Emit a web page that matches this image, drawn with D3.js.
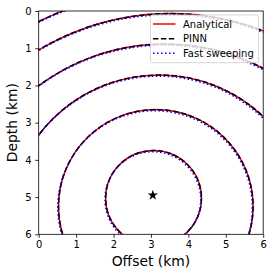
<!DOCTYPE html>
<html><head><meta charset="utf-8">
<script src="https://cdn.jsdelivr.net/npm/d3@7"></script>
<style>body{margin:0;background:#fff}svg{display:block}</style>
</head><body>
<script>
// ---- data (km) ----
const xTicks = [0, 1, 2, 3, 4, 5, 6];
const zTicks = [0, 1, 2, 3, 4, 5, 6];
const sourceX = [3.05];
const sourceZ = [4.95];
// traveltime contours approximated as circles (centre x, centre z, radius)
const analyticalCx = [3.07, 3.13, 3.22, 3.37, 3.52, 3.65];
const analyticalCz = [5.03, 5.25, 5.74, 6.53, 6.90, 7.55];
const analyticalR  = [1.28, 2.60, 4.02, 5.64, 6.83, 8.13];
const pinnCx = [3.07, 3.13, 3.22, 3.37, 3.52, 3.65];
const pinnCz = [5.03, 5.25, 5.74, 6.53, 6.90, 7.55];
const pinnR  = [1.28, 2.60, 4.02, 5.64, 6.83, 8.13];
const sweepCx = [3.05, 3.11, 3.20, 3.35, 3.50, 3.63];
const sweepCz = [5.06, 5.28, 5.77, 6.56, 6.93, 7.58];
const sweepR  = [1.28, 2.60, 4.02, 5.64, 6.83, 8.13];
const legendLabels = ["Analytical", "PINN", "Fast sweeping"];

const W = 274, H = 276;
const L = 38.7, R = 263.2, T = 11, B = 234.3;
const svg = d3.select("body").append("svg").attr("width", W).attr("height", H)
  .style("font-family", "'DejaVu Sans', sans-serif");
const x = d3.scaleLinear().domain([0, 6]).range([L, R]);
const y = d3.scaleLinear().domain([0, 6]).range([T, B]);

svg.append("clipPath").attr("id", "clip").append("rect")
  .attr("x", L).attr("y", T).attr("width", R - L).attr("height", B - T);
const g = svg.append("g").attr("clip-path", "url(#clip)");

const styles = [
  {cx: analyticalCx, cz: analyticalCz, r: analyticalR, color: "#ff0000", dash: null},
  {cx: pinnCx, cz: pinnCz, r: pinnR, color: "#000000", dash: "5.5,2.4"},
  {cx: sweepCx, cz: sweepCz, r: sweepR, color: "#0000ff", dash: "1.5,2.5"}
];
styles.forEach(s => {
  g.selectAll(null).data(s.r).enter().append("ellipse")
    .attr("cx", (d, i) => x(s.cx[i]))
    .attr("cy", (d, i) => y(s.cz[i]))
    .attr("rx", d => x(d) - x(0))
    .attr("ry", d => y(d) - y(0))
    .attr("fill", "none")
    .attr("stroke", s.color)
    .attr("stroke-width", 1.5)
    .attr("stroke-dasharray", s.dash);
});

// source star
svg.selectAll(null).data(sourceX).enter().append("path")
  .attr("d", d3.symbol(d3.symbolStar, 34))
  .attr("transform", (d, i) => `translate(${x(d)},${y(sourceZ[i])})`)
  .attr("fill", "#000");

// axes
const ax = svg.append("g").attr("transform", `translate(0,${B})`)
  .call(d3.axisBottom(x).tickValues(xTicks).tickFormat(d3.format("d")).tickSize(3.5).tickPadding(3.5));
const ay = svg.append("g").attr("transform", `translate(${L},0)`)
  .call(d3.axisLeft(y).tickValues(zTicks).tickFormat(d3.format("d")).tickSize(3.5).tickPadding(3.5));
[ax, ay].forEach(a => {
  a.select(".domain").remove();
  a.selectAll("text").attr("font-size", 10).attr("fill", "#000")
    .style("font-family", "'DejaVu Sans', sans-serif");
  a.selectAll("line").attr("stroke", "#000").attr("stroke-width", 0.8);
});

// frame
svg.append("rect").attr("x", L).attr("y", T).attr("width", R - L).attr("height", B - T)
  .attr("fill", "none").attr("stroke", "#000").attr("stroke-width", 0.8);

// labels
svg.append("text").attr("x", (L + R) / 2).attr("y", 265.5).attr("text-anchor", "middle")
  .attr("font-size", 13.9).text("Offset (km)");
svg.append("text").attr("transform", `translate(16.5,${(T + B) / 2}) rotate(-90)`)
  .attr("text-anchor", "middle").attr("font-size", 13.9).text("Depth (km)");

// legend
const lg = svg.append("g");
lg.append("rect").attr("x", 150.5).attr("y", 15).attr("width", 108).attr("height", 47.7)
  .attr("rx", 2).attr("fill", "#fff").attr("fill-opacity", 0.8)
  .attr("stroke", "#cccccc").attr("stroke-width", 0.8);
legendLabels.forEach((lab, i) => {
  const yy = 24 + i * 14.65;
  lg.append("line").attr("x1", 153).attr("x2", 175.5).attr("y1", yy).attr("y2", yy)
    .attr("stroke", styles[i].color).attr("stroke-width", 1.5)
    .attr("stroke-dasharray", styles[i].dash);
  lg.append("text").attr("x", 183).attr("y", yy + 3.6).attr("font-size", 10).text(lab);
});
</script>
</body></html>
